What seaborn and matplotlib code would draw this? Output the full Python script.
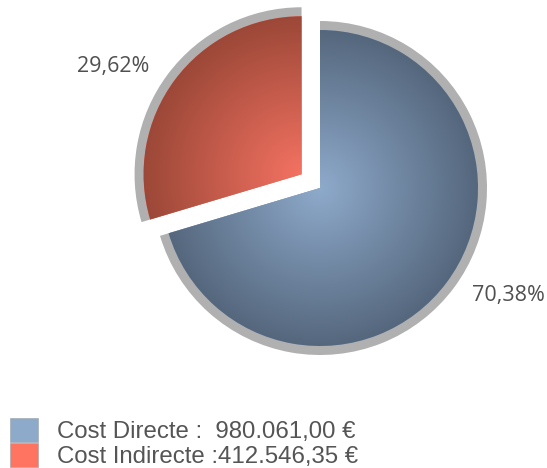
import numpy as np
import matplotlib
matplotlib.use("Agg")
import matplotlib.pyplot as plt
from matplotlib.patches import Rectangle
import seaborn as sns

# Cost breakdown
categories = ["Cost Directe", "Cost Indirecte"]
amounts = [980061.00, 412546.35]
legend_labels = ["Cost Directe :  980.061,00 €", "Cost Indirecte :412.546,35 €"]
base_colors = ["#8eaacb", "#ff7461"]
light_colors = ["#8eaacb", "#f47262"]
dark_colors = ["#55677d", "#9c4838"]
explode_px = [0, 23]

sns.set_theme(style="white")
plt.rcParams["font.family"] = ["Liberation Sans", "DejaVu Sans"]

W, H = 547, 468
fig = plt.figure(figsize=(W / 100, H / 100), dpi=100)
ax = fig.add_axes([0, 0, 1, 1])

cx, cy = 320, 280
r_outer, r_inner = 167, 158

# grey rim behind each slice (explode is in data units)
ax.pie(amounts, center=(cx, cy), radius=r_outer, startangle=90,
       counterclock=False, colors=["#b0b0b0"] * 2, explode=explode_px,
       wedgeprops=dict(linewidth=0))

# coloured slices (filled with radial gradients below)
wedges, _ = ax.pie(amounts, center=(cx, cy), radius=r_inner, startangle=90,
                   counterclock=False, colors=base_colors, explode=explode_px,
                   wedgeprops=dict(linewidth=0))

xs = np.linspace(0, W, W + 1)
ys = np.linspace(0, H, H + 1)
X, Y = np.meshgrid(xs, ys)
total = sum(amounts)
for w, lo, hi, val in zip(wedges, light_colors, dark_colors, amounts):
    wx, wy = w.center
    d = np.clip(np.hypot(X - wx, Y - wy) / r_inner, 0, 1)
    cmap = sns.blend_palette([lo, hi], as_cmap=True)
    img = ax.imshow(d, cmap=cmap, vmin=0, vmax=1, extent=(0, W, 0, H),
                    origin="lower", interpolation="bilinear", zorder=2)
    img.set_clip_path(w)

    # percentage label outside the slice
    pct = 100 * val / total
    mid = np.deg2rad((w.theta1 + w.theta2) / 2 + 7)
    lx = wx + 1.30 * r_outer * np.cos(mid)
    ly = wy + 1.30 * r_outer * np.sin(mid)
    ax.text(lx, ly, f"{pct:.2f}".replace(".", ",") + "%", ha="center",
            va="center", fontsize=15.5, color="#505050",
            family=["Open Sans", "DejaVu Sans"], zorder=3)

ax.set_xlim(0, W)
ax.set_ylim(0, H)
ax.set_aspect("equal")
ax.axis("off")

handles = [Rectangle((0, 0), 1, 1, facecolor=c, edgecolor="#9aa0a8",
                     linewidth=0.4) for c in base_colors]
fs = 17.3
fpx = fs * 100 / 72
leg = ax.legend(handles, legend_labels, loc="lower left",
                bbox_to_anchor=(10 / W, 0 / H), bbox_transform=fig.transFigure,
                frameon=False, fontsize=fs, handlelength=28 / fpx,
                handleheight=28 / fpx, handletextpad=19 / fpx,
                labelspacing=0.0, borderpad=0, borderaxespad=0)
for t in leg.get_texts():
    t.set_color("#555555")

fig.savefig("out.png", dpi=100)
